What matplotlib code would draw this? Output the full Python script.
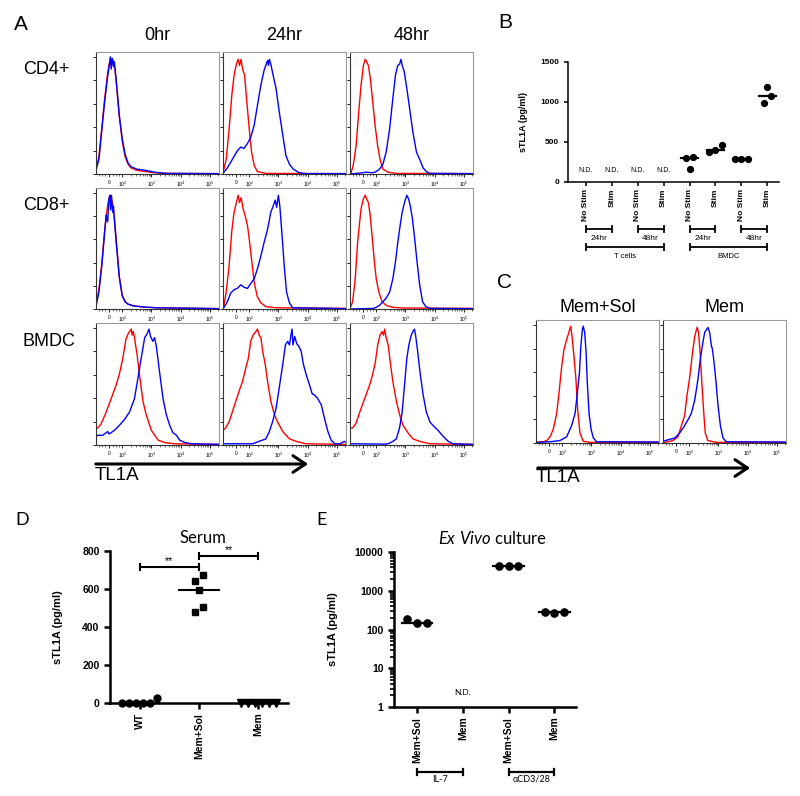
import numpy as np
import matplotlib
matplotlib.use('Agg')
import matplotlib.pyplot as plt
from matplotlib.transforms import blended_transform_factory
from matplotlib.patches import FancyArrowPatch
from matplotlib.ticker import LogLocator, FixedLocator, NullFormatter

plt.rcParams['font.family'] = ['Liberation Sans', 'DejaVu Sans']
plt.rcParams['mathtext.fontset'] = 'custom'
plt.rcParams['mathtext.rm'] = 'Liberation Sans'
plt.rcParams['mathtext.it'] = 'Lato:italic'

# ---------------- DATA ----------------
# Panel A / C histograms: (position on biexponential TL1A axis, % of max) knots
# axis units: 10^2 -> 0, 10^3 -> 1, 10^4 -> 2, 10^5 -> 3, "0" -> -0.45
hist_tick_pos = [-0.45, 0, 1, 2, 3]
hist_tick_lbl = ['0', '$10^2$', '$10^3$', '$10^4$', '$10^5$']

cd4_0h_red = [(-0.9,6),(-0.85,9),(-0.8,14),(-0.7,38),(-0.6,62),(-0.5,83),(-0.45,90),(-0.4,93),(-0.36,89),(-0.32,94),(-0.25,86),(-0.2,74),(-0.1,47),(0.0,27),(0.1,14),(0.2,8),(0.3,5),(0.5,3),(0.8,2),(1.1,1),(1.5,0.5),(3.32,0.3)]
cd4_0h_blue = [(-0.9,3),(-0.8,12),(-0.7,36),(-0.6,60),(-0.5,80),(-0.45,88),(-0.41,96),(-0.38,86),(-0.35,95),(-0.3,88),(-0.27,92),(-0.2,75),(-0.1,48),(0.0,29),(0.1,16),(0.2,9),(0.3,6),(0.5,4),(0.8,3),(1.1,1.5),(1.5,0.5),(3.32,0.3)]
cd4_24h_red = [(-0.9,2),(-0.87,4),(-0.79,12),(-0.69,37),(-0.6,64),(-0.52,81),(-0.44,90),(-0.38,94),(-0.33,89),(-0.28,94),(-0.23,86),(-0.16,81),(-0.1,64),(0.0,37),(0.08,18),(0.17,7),(0.28,2),(0.57,0.5),(3.32,0.3)]
cd4_24h_blue = [(-0.9,0.5),(-0.75,5),(-0.58,12),(-0.41,19),(-0.29,22),(-0.18,21),(-0.06,25),(0.05,30),(0.17,40),(0.28,56),(0.4,73),(0.51,85),(0.6,91),(0.63,93),(0.66,89),(0.69,94),(0.74,90),(0.82,81),(0.92,70),(1.03,51),(1.15,32),(1.26,15),(1.38,8),(1.51,4),(1.72,1),(1.95,0.3),(3.32,0.3)]
cd4_48h_red = [(-0.9,0.5),(-0.87,0.5),(-0.79,7),(-0.69,23),(-0.6,51),(-0.52,73),(-0.44,89),(-0.38,94),(-0.33,92),(-0.27,89),(-0.2,78),(-0.12,59),(-0.04,40),(0.05,23),(0.13,12),(0.23,4),(0.4,1.5),(0.69,0.5),(3.32,0.3)]
cd4_48h_blue = [(-0.9,0),(-0.46,1),(-0.35,1.5),(-0.12,1),(0.0,2),(0.11,4),(0.23,8),(0.34,18),(0.46,37),(0.57,62),(0.66,81),(0.74,89),(0.8,90),(0.85,94),(0.89,89),(0.96,84),(1.05,70),(1.15,53),(1.26,34),(1.38,18),(1.49,12),(1.61,5),(1.72,2),(1.84,0.5),(3.32,0.3)]

cd8_0h_red = [(-0.9,8),(-0.85,10),(-0.8,16),(-0.7,38),(-0.6,66),(-0.5,86),(-0.44,93),(-0.38,92),(-0.33,87),(-0.27,76),(-0.2,55),(-0.1,27),(0.0,11),(0.1,6),(0.2,4),(0.4,2.5),(0.8,1.5),(1.2,1),(3.32,0.3)]
cd8_0h_blue = [(-0.9,2),(-0.8,14),(-0.7,36),(-0.6,64),(-0.55,78),(-0.5,72),(-0.46,90),(-0.42,94),(-0.4,82),(-0.37,94),(-0.33,80),(-0.3,85),(-0.27,74),(-0.2,53),(-0.1,26),(0.0,11),(0.1,6),(0.2,4),(0.4,2.5),(0.8,1.5),(1.2,1),(3.32,0.3)]
cd8_24h_red = [(-0.9,1),(-0.87,3),(-0.79,14),(-0.69,36),(-0.6,64),(-0.52,80),(-0.44,88),(-0.38,94),(-0.33,88),(-0.28,92),(-0.21,83),(-0.14,77),(-0.06,69),(0.0,58),(0.09,39),(0.17,22),(0.28,10),(0.4,5),(0.57,2),(0.92,1),(3.32,0.5)]
cd8_24h_blue = [(-0.9,0),(-0.75,6),(-0.64,13),(-0.52,16),(-0.41,17),(-0.29,20),(-0.18,18),(-0.06,17),(0.05,21),(0.17,25),(0.28,33),(0.4,44),(0.51,55),(0.63,66),(0.74,80),(0.82,85),(0.89,90),(0.94,84),(1.0,94),(1.05,85),(1.12,63),(1.2,36),(1.28,14),(1.38,5),(1.49,1),(3.32,0.3)]
cd8_48h_red = [(-0.9,0.5),(-0.81,6),(-0.72,25),(-0.64,55),(-0.58,69),(-0.52,83),(-0.44,91),(-0.38,94),(-0.33,91),(-0.27,88),(-0.21,78),(-0.14,60),(-0.06,38),(0.0,25),(0.09,14),(0.2,6),(0.34,3),(0.57,1.4),(0.92,0.8),(3.32,0.5)]
cd8_48h_blue = [(-0.9,0),(-0.1,0.5),(0.0,1.4),(0.11,3),(0.23,6),(0.34,9),(0.46,14),(0.57,25),(0.66,39),(0.74,55),(0.82,69),(0.89,80),(0.97,88),(1.05,94),(1.11,91),(1.17,85),(1.24,75),(1.32,58),(1.4,39),(1.49,20),(1.59,6),(1.7,2),(1.84,0.5),(3.32,0.3)]

bmdc_0h_red = [(-0.9,13),(-0.84,14),(-0.73,17),(-0.55,27),(-0.38,38),(-0.21,49),(-0.1,58),(0.02,71),(0.13,87),(0.2,91),(0.25,93),(0.31,95),(0.34,90),(0.38,93),(0.42,88),(0.51,74),(0.59,58),(0.71,36),(0.82,25),(1.0,12),(1.23,4),(1.46,2),(1.8,1),(3.32,0.5)]
bmdc_0h_blue = [(-0.9,110),(-0.89,7),(-0.84,8),(-0.67,8),(-0.5,11),(-0.45,9),(-0.27,12),(-0.1,16),(0.08,21),(0.25,27),(0.42,38),(0.54,55),(0.65,71),(0.77,88),(0.85,91),(0.92,95),(0.97,89),(1.05,85),(1.11,88),(1.17,81),(1.28,60),(1.4,38),(1.51,25),(1.63,16),(1.74,10),(1.86,8),(1.97,4),(2.15,2),(2.38,1),(3.32,0.5)]
bmdc_24h_red = [(-0.9,12),(-0.81,14),(-0.69,19),(-0.58,27),(-0.46,36),(-0.35,44),(-0.23,52),(-0.12,63),(-0.03,71),(0.05,85),(0.13,90),(0.23,93),(0.28,95),(0.34,90),(0.4,88),(0.46,77),(0.55,66),(0.63,52),(0.74,36),(0.86,25),(0.97,19),(1.15,11),(1.38,5),(1.61,3),(1.95,1),(3.32,0.5)]
bmdc_24h_blue = [(-0.9,110),(-0.89,1),(0.11,1),(0.34,3),(0.57,5),(0.69,11),(0.8,19),(0.92,30),(1.03,47),(1.15,66),(1.24,82),(1.32,85),(1.38,82),(1.43,90),(1.47,95),(1.5,82),(1.56,89),(1.63,83),(1.7,81),(1.78,77),(1.86,66),(1.95,58),(2.07,49),(2.16,42),(2.24,41),(2.35,38),(2.47,33),(2.58,22),(2.7,11),(2.81,4),(2.93,1),(3.1,1),(3.27,3),(3.32,2)]
bmdc_48h_red = [(-0.9,110),(-0.89,14),(-0.81,14),(-0.69,18),(-0.58,26),(-0.46,34),(-0.35,41),(-0.23,49),(-0.12,58),(-0.03,68),(0.05,82),(0.13,90),(0.2,93),(0.25,90),(0.29,95),(0.34,88),(0.41,82),(0.48,68),(0.57,52),(0.69,36),(0.8,25),(0.92,16),(1.09,10),(1.26,5),(1.49,3),(1.84,1),(3.32,0.5)]
bmdc_48h_blue = [(-0.9,1),(0.34,0.7),(0.46,1.5),(0.57,3),(0.69,5),(0.8,14),(0.89,27),(0.97,49),(1.05,71),(1.12,82),(1.2,90),(1.26,93),(1.31,95),(1.35,90),(1.42,77),(1.51,58),(1.61,41),(1.72,27),(1.84,19),(1.95,16),(2.12,12),(2.3,7),(2.47,3),(2.64,1),(3.32,0.5)]

memsol_red = [(-0.9,0.5),(-0.65,1),(-0.53,2),(-0.42,5),(-0.31,11),(-0.19,24),(-0.1,43),(-0.02,62),(0.06,76),(0.15,84),(0.23,90),(0.29,95),(0.34,86),(0.4,71),(0.47,52),(0.53,27),(0.61,8),(0.72,1.4),(0.95,0.5),(3.32,0.5)]
memsol_blue = [(-0.9,0.5),(-0.42,1),(-0.08,2),(0.15,5),(0.32,14),(0.44,24),(0.52,41),(0.59,57),(0.64,79),(0.69,92),(0.72,95),(0.77,90),(0.82,73),(0.86,49),(0.92,24),(0.99,11),(1.07,4),(1.18,1),(1.53,1),(3.32,0.8)]
mem_red = [(-0.9,0.5),(-0.84,0.5),(-0.56,2),(-0.39,5),(-0.27,14),(-0.16,22),(-0.08,38),(0.02,54),(0.11,73),(0.19,87),(0.27,94),(0.32,90),(0.38,71),(0.44,46),(0.5,24),(0.55,8),(0.64,2),(0.93,0.5),(3.32,0.5)]
mem_blue = [(-0.9,1.4),(-0.67,3),(-0.5,4),(-0.33,8),(-0.16,14),(-0.04,19),(0.07,24),(0.19,35),(0.3,52),(0.38,68),(0.45,79),(0.53,90),(0.59,92),(0.64,94),(0.7,90),(0.76,79),(0.79,77),(0.84,68),(0.91,52),(0.99,30),(1.07,14),(1.16,4),(1.27,1),(3.32,0.8)]

a_rows = ['CD4+', 'CD8+', 'BMDC']
a_cols = ['0hr', '24hr', '48hr']
c_cols = ['Mem+Sol', 'Mem']

# Panel B
b_cats = ['No Stim', 'Stim', 'No Stim', 'Stim', 'No Stim', 'Stim', 'No Stim', 'Stim']
b_vals = [[], [], [], [], [300, 305, 155], [375, 400, 465], [290, 278, 290], [990, 1075, 1190]]
b_nd = [0, 1, 2, 3]
b_sub = [('24hr', 0, 1), ('48hr', 2, 3), ('24hr', 4, 5), ('48hr', 6, 7)]
b_main = [('T cells', 0, 3), ('BMDC', 4, 7)]

# Panel D
d_cats = ['WT', 'Mem+Sol', 'Mem']
d_wt = [0, 0, 0, 0, 0, 28]
d_memsol = [478, 506, 595, 643, 673]
d_mem = [0, 0, 0, 0, 0, 0]
d_sig = [(0, 1, 715, '**'), (1, 2, 772, '**')]

# Panel E
e_cats = ['Mem+Sol', 'Mem', 'Mem+Sol', 'Mem']
e_vals = [[190, 150, 150], [], [4350, 4300, 4300], [280, 260, 280]]
e_nd = [1]
e_groups = [('IL-7', 0, 1), ('\u03b1CD3/28', 2, 3)]

# ---------------- FIGURE ----------------
W, H = 800, 796
fig = plt.figure(figsize=(8, 7.96), dpi=100)


def ax_at(x0, y0, x1, y1):
    return fig.add_axes([x0 / W, 1 - y1 / H, (x1 - x0) / W, (y1 - y0) / H])


def ftext(x, y, s, **kw):
    return fig.text(x / W, 1 - y / H, s, **kw)


minor_u = [n + np.log10(k) for n in range(0, 4) for k in range(2, 10) if n + np.log10(k) < 3.32]
minor_u += [-0.8, -0.7, -0.6, -0.3, -0.2, -0.1]


def hist_panel(ax, red, blue):
    for pts, col in ((red, '#ff0000'), (blue, '#0000ff')):
        u, y = zip(*pts)
        ax.plot(u, y, color=col, lw=1.0, solid_joinstyle='round')
    ax.set_xlim(-0.9, 3.32)
    ax.set_ylim(0, 100)
    for s in ('top', 'right'):
        ax.spines[s].set_color('#9a9a9a')
    for s in ('left', 'bottom'):
        ax.spines[s].set_color('#333333')
    for s in ax.spines.values():
        s.set_linewidth(0.8)
    ax.set_yticks(np.arange(6) * 19.2)
    ax.set_yticklabels([])
    ax.tick_params(axis='y', length=2, width=0.6, direction='out')
    ax.set_xticks(hist_tick_pos)
    ax.set_xticklabels(hist_tick_lbl, fontsize=3.6)
    ax.set_xticks(minor_u, minor=True)
    ax.tick_params(axis='x', which='major', length=2.5, width=0.6, pad=1.5)
    ax.tick_params(axis='x', which='minor', length=1.4, width=0.4)


# Panel A
a_data = [[(cd4_0h_red, cd4_0h_blue), (cd4_24h_red, cd4_24h_blue), (cd4_48h_red, cd4_48h_blue)],
          [(cd8_0h_red, cd8_0h_blue), (cd8_24h_red, cd8_24h_blue), (cd8_48h_red, cd8_48h_blue)],
          [(bmdc_0h_red, bmdc_0h_blue), (bmdc_24h_red, bmdc_24h_blue), (bmdc_48h_red, bmdc_48h_blue)]]
col_x = [(96, 219), (223, 346), (350, 473)]
row_y = [(52, 174), (188, 309), (323, 445)]
for r in range(3):
    for c in range(3):
        ax = ax_at(col_x[c][0], row_y[r][0], col_x[c][1], row_y[r][1])
        hist_panel(ax, *a_data[r][c])
for c in range(3):
    ftext((col_x[c][0] + col_x[c][1]) / 2, 35, a_cols[c], fontsize=13, ha='center', va='center')
for r, yy in enumerate([70, 206, 342]):
    ftext(23, yy, a_rows[r], fontsize=13, ha='left', va='center')


def draw_arrow(x0, x1, y):
    arr = FancyArrowPatch((x0 / W, 1 - y / H), (x1 / W, 1 - y / H), transform=fig.transFigure,
                          arrowstyle='->,head_length=0.45,head_width=0.3', mutation_scale=20,
                          lw=2.2, color='black')
    fig.add_artist(arr)


draw_arrow(93, 311, 464)
ftext(95, 476, 'TL1A', fontsize=13.5, ha='left', va='center')

# Panel C
c_data = [(memsol_red, memsol_blue), (mem_red, mem_blue)]
c_x = [(536, 659), (663, 786)]
for i in range(2):
    ax = ax_at(c_x[i][0], 320, c_x[i][1], 443)
    hist_panel(ax, *c_data[i])
    ftext((c_x[i][0] + c_x[i][1]) / 2, 307, c_cols[i], fontsize=13, ha='center', va='center')
draw_arrow(535, 753, 468)
ftext(536, 478, 'TL1A', fontsize=13.5, ha='left', va='center')


# swarm helper: spread points with (nearly) equal values side by side
def swarm(vals, to_px, d, tol):
    n = len(vals)
    offs = np.zeros(n)
    if n == 0:
        return offs
    clusters, cur = [], [0]
    for i in range(1, n):
        if abs(to_px(vals[i]) - to_px(vals[i - 1])) < tol:
            cur.append(i)
        else:
            clusters.append(cur)
            cur = [i]
    clusters.append(cur)
    for cl in clusters:
        k = len(cl)
        for j, i in enumerate(cl):
            offs[i] = (j - (k - 1) / 2) * d
    return offs


def bracket(ax, x0, x1, ypx, text, typx, fs, lw=1.3, font=None):
    tr = blended_transform_factory(ax.transData, fig.transFigure)
    yf = 1 - ypx / H
    cap = 3.2 / H
    ax.plot([x0, x1], [yf, yf], transform=tr, color='k', lw=lw, clip_on=False, solid_capstyle='butt')
    for xx in (x0, x1):
        ax.plot([xx, xx], [yf - cap, yf + cap], transform=tr, color='k', lw=lw, clip_on=False)
    kw = {}
    if font:
        kw['family'] = font
    ax.text((x0 + x1) / 2, 1 - typx / H, text, transform=tr, ha='center', va='center', fontsize=fs, **kw)


def style_dot_axes(ax, lw, fs_tick, tick_len):
    for s in ('top', 'right'):
        ax.spines[s].set_visible(False)
    for s in ('left', 'bottom'):
        ax.spines[s].set_linewidth(lw)
    ax.tick_params(axis='both', which='major', width=lw, length=tick_len, labelsize=fs_tick)
    for lab in ax.get_yticklabels() + ax.get_xticklabels():
        lab.set_fontweight('bold')


# Panel B
axb = ax_at(568, 61.7, 779, 181.7)
axb.set_xlim(-0.69, 7.45)
axb.set_ylim(0, 1500)
b_px = lambda v: v * 120 / 1500
for i, vals in enumerate(b_vals):
    if not vals:
        continue
    offs = swarm(vals, b_px, 0.25, 7.5)
    axb.plot(i + offs, vals, 'o', color='k', ms=4.2, mec='k', clip_on=False, zorder=3)
    axb.plot([i - 0.32, i + 0.32], [np.median(vals)] * 2, color='k', lw=1.6, zorder=2)
for i in b_nd:
    axb.text(i, 140, 'N.D.', ha='center', va='center', fontsize=5)
axb.set_yticks([0, 500, 1000, 1500])
axb.set_xticks(range(len(b_cats)))
axb.set_xticklabels(b_cats, rotation=90, va='top', ha='center')
style_dot_axes(axb, 1.1, 6, 3)
axb.tick_params(axis='x', pad=2)
axb.set_ylabel('sTL1A (pg/ml)', fontsize=6.5, fontweight='bold')
axb.yaxis.set_label_coords(-0.19, 0.5)
for name, a, b in b_sub:
    bracket(axb, a, b, 229, name, 238, 6)
for name, a, b in b_main:
    bracket(axb, a, b, 247, name, 257, 5.5)

# Panel D
axd = ax_at(110, 551, 288, 703)
axd.set_xlim(-0.5, 2.5)
axd.set_ylim(0, 800)
d_px = lambda v: v * 152 / 800
for i, (vals, mk, ms) in enumerate([(d_wt, 'o', 5), (d_memsol, 's', 5), (d_mem, 'v', 5.5)]):
    offs = swarm(vals, d_px, 0.118, 7)
    axd.plot(i + offs, vals, mk, color='k', ms=ms, clip_on=False, zorder=3)
    axd.plot([i - 0.33, i + 0.33], [np.median(vals)] * 2, color='k', lw=1.5, zorder=2, clip_on=False)
for a, b, yv, s in d_sig:
    axd.plot([a, b], [yv, yv], color='k', lw=1.5, clip_on=False)
    for xx in (a, b):
        axd.plot([xx, xx], [yv - 15, yv + 15], color='k', lw=1.5, clip_on=False)
    axd.text((a + b) / 2, yv + 8, s, ha='center', va='bottom', fontsize=7.5)
axd.set_yticks([0, 200, 400, 600, 800])
axd.set_xticks(range(3))
axd.set_xticklabels(d_cats, rotation=90, va='top', ha='center')
style_dot_axes(axd, 1.8, 7.5, 4)
axd.tick_params(axis='x', pad=3)
axd.set_ylabel('sTL1A (pg/ml)', fontsize=8, fontweight='bold')
axd.yaxis.set_label_coords(-0.264, 0.5)
ftext(203, 538, 'Serum', fontsize=12, ha='center', va='center', family='Lato')

# Panel E
axe = ax_at(394, 552, 576, 707)
axe.set_yscale('log')
axe.set_xlim(-0.5, 3.47)
axe.set_ylim(1, 10000)
e_px = lambda v: np.log10(v) * 38.8
for i, vals in enumerate(e_vals):
    if not vals:
        continue
    offs = swarm(vals, e_px, 0.21, 7)
    axe.plot(i + offs, vals, 'o', color='k', ms=5.2, clip_on=False, zorder=3)
    axe.plot([i - 0.33, i + 0.33], [np.median(vals)] * 2, color='k', lw=1.6, zorder=2)
for i in e_nd:
    axe.text(i, 2.4, 'N.D.', ha='center', va='center', fontsize=6, family='Lato')
axe.yaxis.set_major_locator(FixedLocator([1, 10, 100, 1000, 10000]))
axe.set_yticklabels(['1', '10', '100', '1000', '10000'])
axe.yaxis.set_minor_locator(LogLocator(base=10, subs=np.arange(2, 10), numticks=20))
axe.yaxis.set_minor_formatter(NullFormatter())
axe.set_xticks(range(4))
axe.set_xticklabels(e_cats, rotation=90, va='top', ha='center')
style_dot_axes(axe, 1.8, 7.5, 4)
axe.tick_params(axis='y', which='minor', length=3, width=1.2)
axe.tick_params(axis='x', pad=3)
axe.set_ylabel('sTL1A (pg/ml)', fontsize=8, fontweight='bold')
axe.yaxis.set_label_coords(-0.308, 0.5)
for name, a, b in e_groups:
    bracket(axe, a, b, 772, name, 779, 6.5, lw=1.6, font='Lato')
ftext(492, 538, r'$\mathit{Ex\ Vivo}$ culture', fontsize=12, ha='center', va='center', family='Lato')

# panel letters
ftext(21, 25, 'A', fontsize=15, ha='center', va='center')
ftext(505, 23, 'B', fontsize=15, ha='center', va='center')
ftext(505, 283, 'C', fontsize=15, ha='center', va='center')
ftext(22, 520, 'D', fontsize=13, ha='center', va='center', family='Lato')
ftext(322, 520, 'E', fontsize=13, ha='center', va='center', family='Lato')

fig.savefig('out.png', dpi=100)
